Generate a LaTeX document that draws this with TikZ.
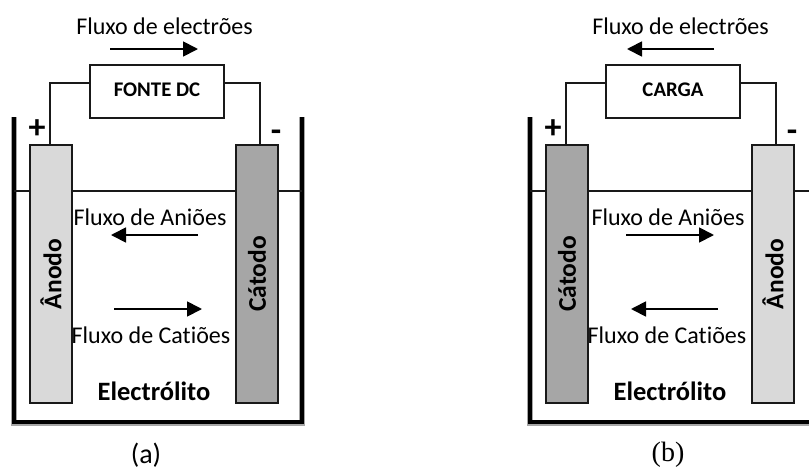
\documentclass[tikz,border=0pt]{standalone}
\usepackage{fontspec}
\setmainfont[Ligatures=NoCommon]{Carlito}
\newfontfamily\serifb{Liberation Serif}
\usetikzlibrary{arrows.meta}
\tikzset{
  x=1pt,y=-1pt,
  tank/.style={line width=4.2pt,line cap=butt,line join=miter},
  tankshade/.style={line width=5.4pt,draw=black!35},
  wire/.style={line width=1.7pt,draw=black!90},
  flow/.style={line width=1.8pt,-{Triangle[length=15pt,width=15pt]}},
  electrode/.style={draw=black!90,line width=1.6pt,minimum width=42pt,minimum height=258pt,inner sep=0pt,text depth=0pt},
  lite/.style={electrode,fill=black!15},
  dark/.style={electrode,fill=black!35},
  ebox/.style={draw=black!90,line width=2pt,minimum width=134pt,minimum height=53pt,inner sep=0pt},
  eltxt/.style={font=\fontsize{25.5}{26}\selectfont\bfseries,rotate=90,inner sep=0pt},
  lbl/.style={font=\fontsize{24}{26}\selectfont,inner sep=0pt},
  bold/.style={font=\fontsize{26.5}{28}\selectfont\bfseries,inner sep=0pt},
  boxtxt/.style={font=\fontsize{20.8}{22}\selectfont\bfseries,inner sep=0pt},
  sign/.style={font=\fontsize{34}{34}\selectfont\bfseries,inner sep=0pt},
  capt/.style={font=\fontsize{28}{28}\selectfont,inner sep=0pt},
}
\begin{document}
\begin{tikzpicture}
\useasboundingbox (0,0) rectangle (809,469);
\clip (0,0) rectangle (809,469);
% ---- panel (a)
\draw[tankshade] (14,117) -- (14,423) -- (302,423) -- (302,117);
\draw[tank] (14,117) -- (14,422) -- (302,422) -- (302,117);
\coordinate (wl1) at (14,191);
\coordinate (wr1) at (302,191);
\draw[wire] (wl1) -- (wr1);
\node[lite] (an1) at (51,274) {};
\node[dark] (ca1) at (257,274) {};
\node[eltxt] at (an1.center) {Ânodo};
\node[eltxt] at (ca1.center) {Cátodo};
\node[ebox] (src) at (157,91.5) {};
\node[boxtxt] at (157,89.5) {FONTE DC};
\draw[wire] ([yshift=8.5pt]src.west) -| ([xshift=-1pt]an1.north);
\draw[wire] ([yshift=8.5pt]src.east) -| ([xshift=3pt]ca1.north);
\node[lbl] at (164.5,26) {Fluxo de electrões};
\coordinate (e1s) at (110,49); \coordinate (e1t) at (198,49);
\draw[flow] (e1s) -- (e1t);
\node[sign] at (37,129) {+};
\node[sign] at (276,136) {-};
\node[lbl] at (150,217) {Fluxo de Aniões};
\coordinate (a1s) at (198,235); \coordinate (a1t) at (111,235);
\draw[flow] (a1s) -- (a1t);
\coordinate (c1s) at (114,309); \coordinate (c1t) at (202,309);
\draw[flow] (c1s) -- (c1t);
\node[lbl] at (151,335) {Fluxo de Catiões};
\node[bold] at (154,391) {Electrólito};
\node[capt] at (146,455) {(a)};
% ---- panel (b)
\draw[tankshade] (530,117) -- (530,423) -- (818,423) -- (818,117);
\draw[tank] (530,117) -- (530,422) -- (818,422) -- (818,117);
\coordinate (wl2) at (530,191);
\coordinate (wr2) at (818,191);
\draw[wire] (wl2) -- (wr2);
\node[dark] (ca2) at (567,274) {};
\node[lite] (an2) at (773,274) {};
\node[eltxt] at (ca2.center) {Cátodo};
\node[eltxt] at (an2.center) {Ânodo};
\node[ebox] (load) at (673,91.5) {};
\node[boxtxt] at (673,89.5) {CARGA};
\draw[wire] ([yshift=8.5pt]load.west) -| ([xshift=-1pt]ca2.north);
\draw[wire] ([yshift=8.5pt]load.east) -| ([xshift=3pt]an2.north);
\node[lbl] at (680.5,26) {Fluxo de electrões};
\coordinate (e2s) at (714,49); \coordinate (e2t) at (627,49);
\draw[flow] (e2s) -- (e2t);
\node[sign] at (553,129) {+};
\node[sign] at (792,136) {-};
\node[lbl] at (668,217) {Fluxo de Aniões};
\coordinate (a2s) at (626,235); \coordinate (a2t) at (714,235);
\draw[flow] (a2s) -- (a2t);
\coordinate (c2s) at (718,309); \coordinate (c2t) at (631,309);
\draw[flow] (c2s) -- (c2t);
\node[lbl] at (667,335) {Fluxo de Catiões};
\node[bold] at (670,391) {Electrólito};
\node[capt,font=\fontsize{28}{28}\selectfont\serifb] at (668,455) {(b)};
\end{tikzpicture}
\end{document}
